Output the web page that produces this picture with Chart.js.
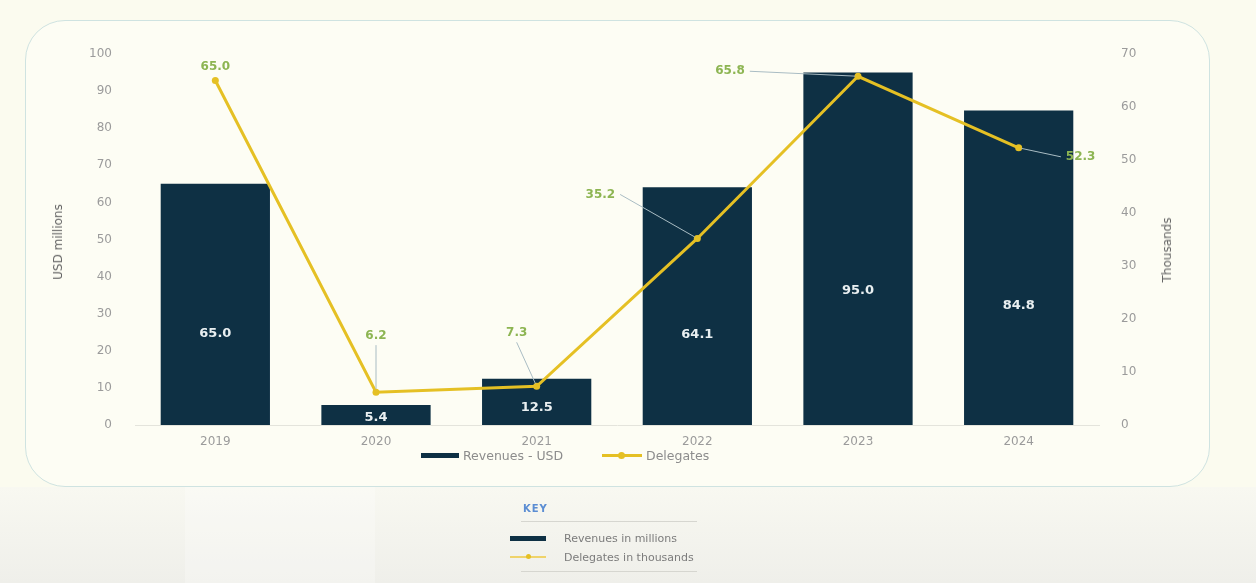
<!DOCTYPE html>
<html>
<head>
<meta charset="utf-8">
<script src="https://cdn.jsdelivr.net/npm/chart.js@4/dist/chart.umd.min.js"></script>
<style>
  body { margin: 0; width: 1256px; height: 583px; overflow: hidden; background: #fbfbef; font-family: "DejaVu Sans", sans-serif; position: relative; }
  .lower { position: absolute; left: 0; top: 487px; width: 1256px; height: 96px;
           background: linear-gradient(180deg, #f8f8f1 0%, #efefea 100%); }
  .lower .glow { position: absolute; left: 185px; top: 0; width: 190px; height: 96px; background: rgba(255,255,255,0.25); }
  .box { position: absolute; left: 25px; top: 20px; width: 1183px; height: 465px; border: 1.5px solid #cfe3e1; border-radius: 40px; background: #fdfdf4; }
  canvas { position: absolute; left: 0; top: 0; }
  .ytitle { position: absolute; font-size: 12px; color: #666; white-space: nowrap; transform: translate(-50%, -50%) rotate(-90deg); }
  .legend { position: absolute; top: 447px; font-size: 12.5px; color: #8c8c8c; white-space: nowrap; }
  .legend span { display: inline-block; vertical-align: middle; }
  .swatch-bar { width: 38px; height: 5px; background: #0e3044; margin-right: 4px; }
  .swatch-line { width: 40px; height: 3px; background: #e5c024; position: relative; margin-right: 4px; }
  .swatch-line::after { content: ""; position: absolute; left: 16px; top: -2px; width: 7px; height: 7px; border-radius: 50%; background: #e5c024; }
  .key { position: absolute; left: 505px; top: 500px; width: 200px; font-size: 11px; color: #7c7c7c; }
  .key .title { position: absolute; left: 18px; top: 3px; color: #5b8dd3; font-size: 10px; font-weight: bold; letter-spacing: 1px; }
  .key .rule { position: absolute; left: 16px; width: 176px; height: 1px; background: #d6d6d0; }
  .key .row { position: absolute; left: 5px; white-space: nowrap; }
  .key .row span { display: inline-block; vertical-align: middle; }
  .key .kline { width: 36px; height: 2px; background: #efd36a; margin-right: 18px; position: relative; }
  .key .kline::after { content: ""; position: absolute; left: 16px; top: -2px; width: 5px; height: 5px; border-radius: 50%; background: #e5c024; }
</style>
</head>
<body>
<div class="lower"><div class="glow"></div></div>
<div class="box"></div>
<canvas id="chart" width="1256" height="455"></canvas>
<div class="ytitle" style="left:58px; top:242px;">USD millions</div>
<div class="ytitle" style="left:1167px; top:250px;">Thousands</div>
<div class="legend" style="left:421px;"><span class="swatch-bar"></span><span>Revenues - USD</span></div>
<div class="legend" style="left:602px;"><span class="swatch-line"></span><span>Delegates</span></div>
<div class="key">
  <div class="title">KEY</div>
  <div class="rule" style="top:21px;"></div>
  <div class="row" style="top:31px;"><span style="width:36px;height:5px;background:#0e3044;margin-right:18px;"></span><span>Revenues in millions</span></div>
  <div class="row" style="top:50px;"><span class="kline"></span><span>Delegates in thousands</span></div>
  <div class="rule" style="top:71px;"></div>
</div>
<script>
// chart data
const years = ["2019", "2020", "2021", "2022", "2023", "2024"];
const revenues = [65.0, 5.4, 12.5, 64.1, 95.0, 84.8];     // USD millions
const delegates = [65.0, 6.2, 7.3, 35.2, 65.8, 52.3];     // thousands

// where the green labels sit relative to their point (px), and where the leader starts
const labelSpots = [
    { dx: 0, dy: -14, leader: null },
    { dx: 0, dy: -56, leader: "bottom" },
    { dx: -20, dy: -53, leader: "bottom" },
    { dx: -97, dy: -44, leader: "right" },
    { dx: -128, dy: -5, leader: "right" },
    { dx: 62, dy: 9, leader: "left" }
];

const font = "DejaVu Sans";

// labels inside the bars, a bit below the middle
const barLabels = {
    id: "barLabels",
    afterDatasetsDraw(chart) {
        const ctx = chart.ctx;
        const meta = chart.getDatasetMeta(0);
        const y = chart.scales.y;
        ctx.save();
        ctx.fillStyle = "#e9eff1";
        ctx.font = "bold 13px " + font;
        ctx.textAlign = "center";
        ctx.textBaseline = "middle";
        meta.data.forEach((bar, i) => {
            ctx.fillText(revenues[i].toFixed(1), bar.x, y.getPixelForValue(revenues[i] * 0.38));
        });
        ctx.restore();
    }
};

// green value labels for the line, with thin leader lines
const pointLabels = {
    id: "pointLabels",
    afterDatasetsDraw(chart) {
        const ctx = chart.ctx;
        const meta = chart.getDatasetMeta(1);
        ctx.save();
        ctx.font = "bold 12px " + font;
        ctx.textAlign = "center";
        ctx.textBaseline = "middle";
        meta.data.forEach((pt, i) => {
            const s = labelSpots[i];
            const text = delegates[i].toFixed(1);
            const lx = pt.x + s.dx, ly = pt.y + s.dy;
            const w = ctx.measureText(text).width;
            if (s.leader) {
                let sx = lx, sy = ly;
                if (s.leader === "bottom") sy = ly + 9;
                if (s.leader === "right") sx = lx + w / 2 + 5;
                if (s.leader === "left") sx = lx - w / 2 - 5;
                const ang = Math.atan2(pt.y - sy, pt.x - sx);
                ctx.strokeStyle = "#a9bcc3";
                ctx.lineWidth = 1;
                ctx.beginPath();
                ctx.moveTo(sx, sy);
                ctx.lineTo(pt.x - Math.cos(ang) * 3, pt.y - Math.sin(ang) * 3);
                ctx.stroke();
            }
            ctx.fillStyle = "#8db552";
            ctx.fillText(text, lx, ly);
        });
        ctx.restore();
    }
};

const tickFont = { family: font, size: 12 };

new Chart(document.getElementById("chart"), {
    data: {
        labels: years,
        datasets: [
            {
                type: "bar",
                label: "Revenues - USD",
                data: revenues,
                backgroundColor: "#0e3044",
                barPercentage: 0.68,
                categoryPercentage: 1,
                yAxisID: "y",
                order: 1
            },
            {
                type: "line",
                label: "Delegates",
                data: delegates,
                borderColor: "#e5c024",
                backgroundColor: "#e5c024",
                borderWidth: 3,
                pointRadius: 3.5,
                pointBorderWidth: 0,
                tension: 0,
                yAxisID: "y1",
                order: 0
            }
        ]
    },
    options: {
        responsive: false,
        animation: false,
        layout: { padding: { left: 47, right: 78, top: 54, bottom: 0 } },
        plugins: { legend: { display: false }, tooltip: { enabled: false } },
        scales: {
            x: {
                grid: { display: true, drawOnChartArea: false, drawTicks: false },
                border: { display: true, color: "#e4e4dc" },
                ticks: { color: "#9b9b9b", font: tickFont, padding: 10 },
                afterFit: s => { s.height = 30; }
            },
            y: {
                position: "left",
                min: 0,
                max: 100,
                grid: { display: false },
                border: { display: false },
                ticks: { stepSize: 10, color: "#9b9b9b", font: tickFont, padding: 15 },
                afterFit: s => { s.width = 88; }
            },
            y1: {
                position: "right",
                min: 0,
                max: 70,
                grid: { display: false },
                border: { display: false },
                ticks: { stepSize: 10, color: "#9b9b9b", font: tickFont, padding: 14 },
                afterFit: s => { s.width = 79; }
            }
        }
    },
    plugins: [barLabels, pointLabels]
});
</script>
</body>
</html>
